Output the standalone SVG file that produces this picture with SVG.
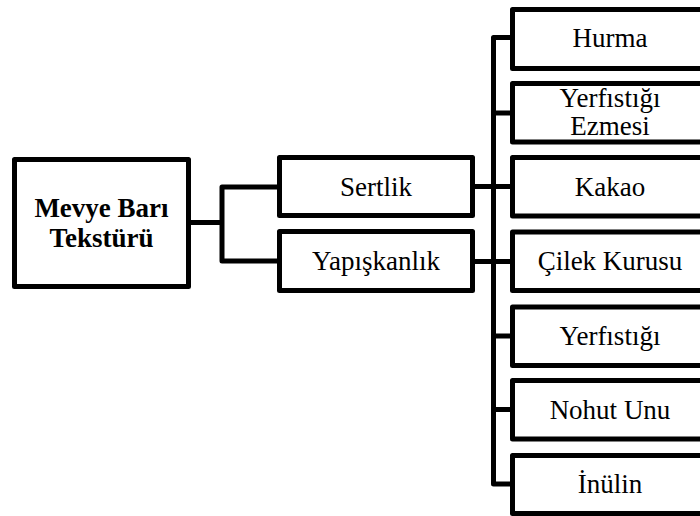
<svg xmlns="http://www.w3.org/2000/svg" width="700" height="516" viewBox="0 0 700 516">
<style>
.box{fill:#fff;stroke:#000;stroke-width:5;stroke-linejoin:round}
.ln{fill:none;stroke:#000;stroke-width:5;stroke-linejoin:round;stroke-linecap:butt}
</style>
<rect width="700" height="516" fill="#fff"/>
<g id="connectors">
<path class="ln" d="M189.5,222.5 H222 M279.5,187 H222 V261 H279.5"/>
<path class="ln" d="M472.5,186.5 H493.5 M472.5,261.5 H493.5"/>
<path class="ln" d="M512.5,37.5 H493.5 V484 H512.5 M493.5,113 H512.5 M493.5,186.5 H512.5 M493.5,261.5 H512.5 M493.5,336 H512.5 M493.5,409.5 H512.5"/>
</g>
<g font-family="Liberation Serif, Times New Roman, DejaVu Serif, serif" font-size="27" fill="#000" text-anchor="middle">
<g id="root">
<rect class="box" x="14.5" y="159.5" width="174" height="127"/>
<text font-weight="bold" x="101.5" y="217">Mevye Barı</text>
<text font-weight="bold" x="101.5" y="246.5">Tekstürü</text>
</g>
<g id="sertlik">
<rect class="box" x="279.5" y="157.5" width="193" height="58"/>
<text x="376" y="196">Sertlik</text>
</g>
<g id="yapiskanlik">
<rect class="box" x="279.5" y="231.5" width="193" height="59"/>
<text x="376" y="270">Yapışkanlık</text>
</g>
<g id="hurma">
<rect class="box" x="512.5" y="9.5" width="210" height="59"/>
<text x="610" y="47">Hurma</text>
</g>
<g id="yerfistigi-ezmesi">
<rect class="box" x="512.5" y="83.5" width="210" height="58.5"/>
<text x="610" y="106.5">Yerfıstığı</text>
<text x="610" y="135">Ezmesi</text>
</g>
<g id="kakao">
<rect class="box" x="512.5" y="157.5" width="210" height="58.5"/>
<text x="610" y="196">Kakao</text>
</g>
<g id="cilek-kurusu">
<rect class="box" x="512.5" y="232" width="210" height="58.5"/>
<text x="610" y="270">Çilek Kurusu</text>
</g>
<g id="yerfistigi">
<rect class="box" x="512.5" y="307" width="210" height="58.5"/>
<text x="610" y="345">Yerfıstığı</text>
</g>
<g id="nohut-unu">
<rect class="box" x="512.5" y="380.5" width="210" height="58.5"/>
<text x="610" y="419">Nohut Unu</text>
</g>
<g id="inulin">
<rect class="box" x="512.5" y="455.5" width="210" height="58"/>
<text x="610" y="493">İnülin</text>
</g>
</g>
</svg>
